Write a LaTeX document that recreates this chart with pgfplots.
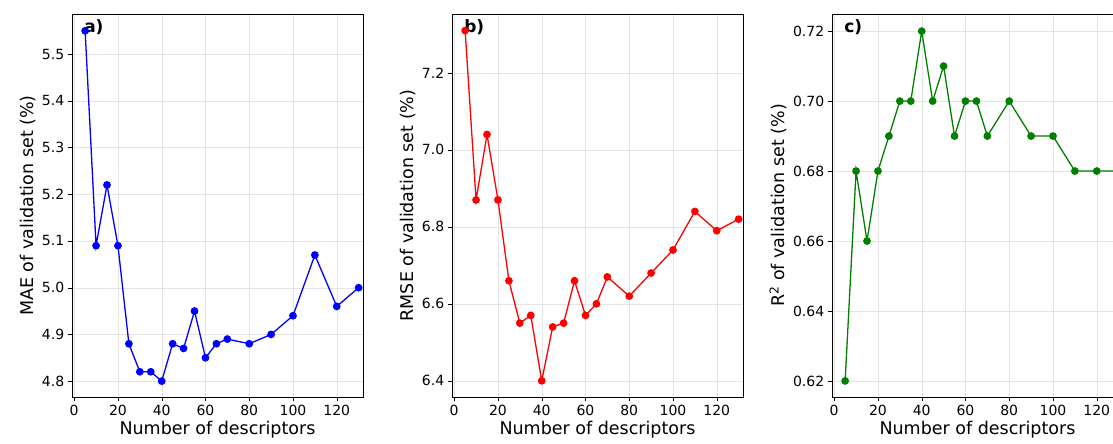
\documentclass[border=0pt]{standalone}
\usepackage{pgfplots}
\pgfplotsset{compat=1.18}
\usepackage{fontspec}
\setmainfont{DejaVu Sans}
\pgfplotstableread{
x mae rmse rr
5 5.55 7.31 0.62
10 5.09 6.87 0.68
15 5.22 7.04 0.66
20 5.09 6.87 0.68
25 4.88 6.66 0.69
30 4.82 6.55 0.70
35 4.82 6.57 0.70
40 4.80 6.40 0.72
45 4.88 6.54 0.70
50 4.87 6.55 0.71
55 4.95 6.66 0.69
60 4.85 6.57 0.70
65 4.88 6.60 0.70
70 4.89 6.67 0.69
80 4.88 6.62 0.70
90 4.90 6.68 0.69
100 4.94 6.74 0.69
110 5.07 6.84 0.68
120 4.96 6.79 0.68
130 5.00 6.82 0.68
}\data
\begin{document}
\begin{tikzpicture}
\useasboundingbox (0pt,0pt) rectangle (1113pt,444pt);
\clip (0pt,0pt) rectangle (1113pt,444pt);
\pgfplotsset{every axis/.style={width=291pt,height=383pt,scale only axis,anchor=south west,
 xmin=-1,xmax=132,xtick={0,20,...,120},grid=major,grid style={gray!20},
 xtick pos=left,ytick pos=left,
 tick label style={font=\fontsize{14}{16}\selectfont},label style={font=\fontsize{17.5}{20}\selectfont},
 /pgf/number format/assume math mode=true,xlabel={Number of descriptors},
 xlabel style={yshift=1pt}, ylabel style={yshift=-1pt}, tick align=outside, tick style={black},
 ticklabel style={/pgf/number format/fixed}}}
\begin{axis}[at={(72pt,47pt)},ymin=4.766,ymax=5.586,ytick={4.8,4.9,...,5.55},
 yticklabel style={/pgf/number format/precision=1,/pgf/number format/fixed zerofill},
 ylabel={MAE of validation set (\%)}]
\addplot[blue,line width=1.3pt,mark=*,mark size=3.2pt] table[x=x,y=mae]{\data};
\node[anchor=north west,font=\bfseries\fontsize{17}{19}\selectfont] at (rel axis cs:0.03,0.995) {a)};
\end{axis}
\begin{axis}[at={(452pt,47pt)},ymin=6.358,ymax=7.353,ytick={6.4,6.6,...,7.25},
 yticklabel style={/pgf/number format/precision=1,/pgf/number format/fixed zerofill},
 ylabel={RMSE of validation set (\%)}]
\addplot[red,line width=1.3pt,mark=*,mark size=3.2pt] table[x=x,y=rmse]{\data};
\node[anchor=north west,font=\bfseries\fontsize{17}{19}\selectfont] at (rel axis cs:0.03,0.995) {b)};
\end{axis}
\begin{axis}[at={(832pt,47pt)},ymin=0.6154,ymax=0.7249,ytick={0.62,0.64,...,0.725},
 yticklabel style={/pgf/number format/precision=2,/pgf/number format/fixed zerofill},
 ylabel={R\textsuperscript{2} of validation set (\%)}]
\addplot[green!50!black,line width=1.3pt,mark=*,mark size=3.2pt] table[x=x,y=rr]{\data};
\node[anchor=north west,font=\bfseries\fontsize{17}{19}\selectfont] at (rel axis cs:0.03,0.995) {c)};
\end{axis}
\end{tikzpicture}
\end{document}
